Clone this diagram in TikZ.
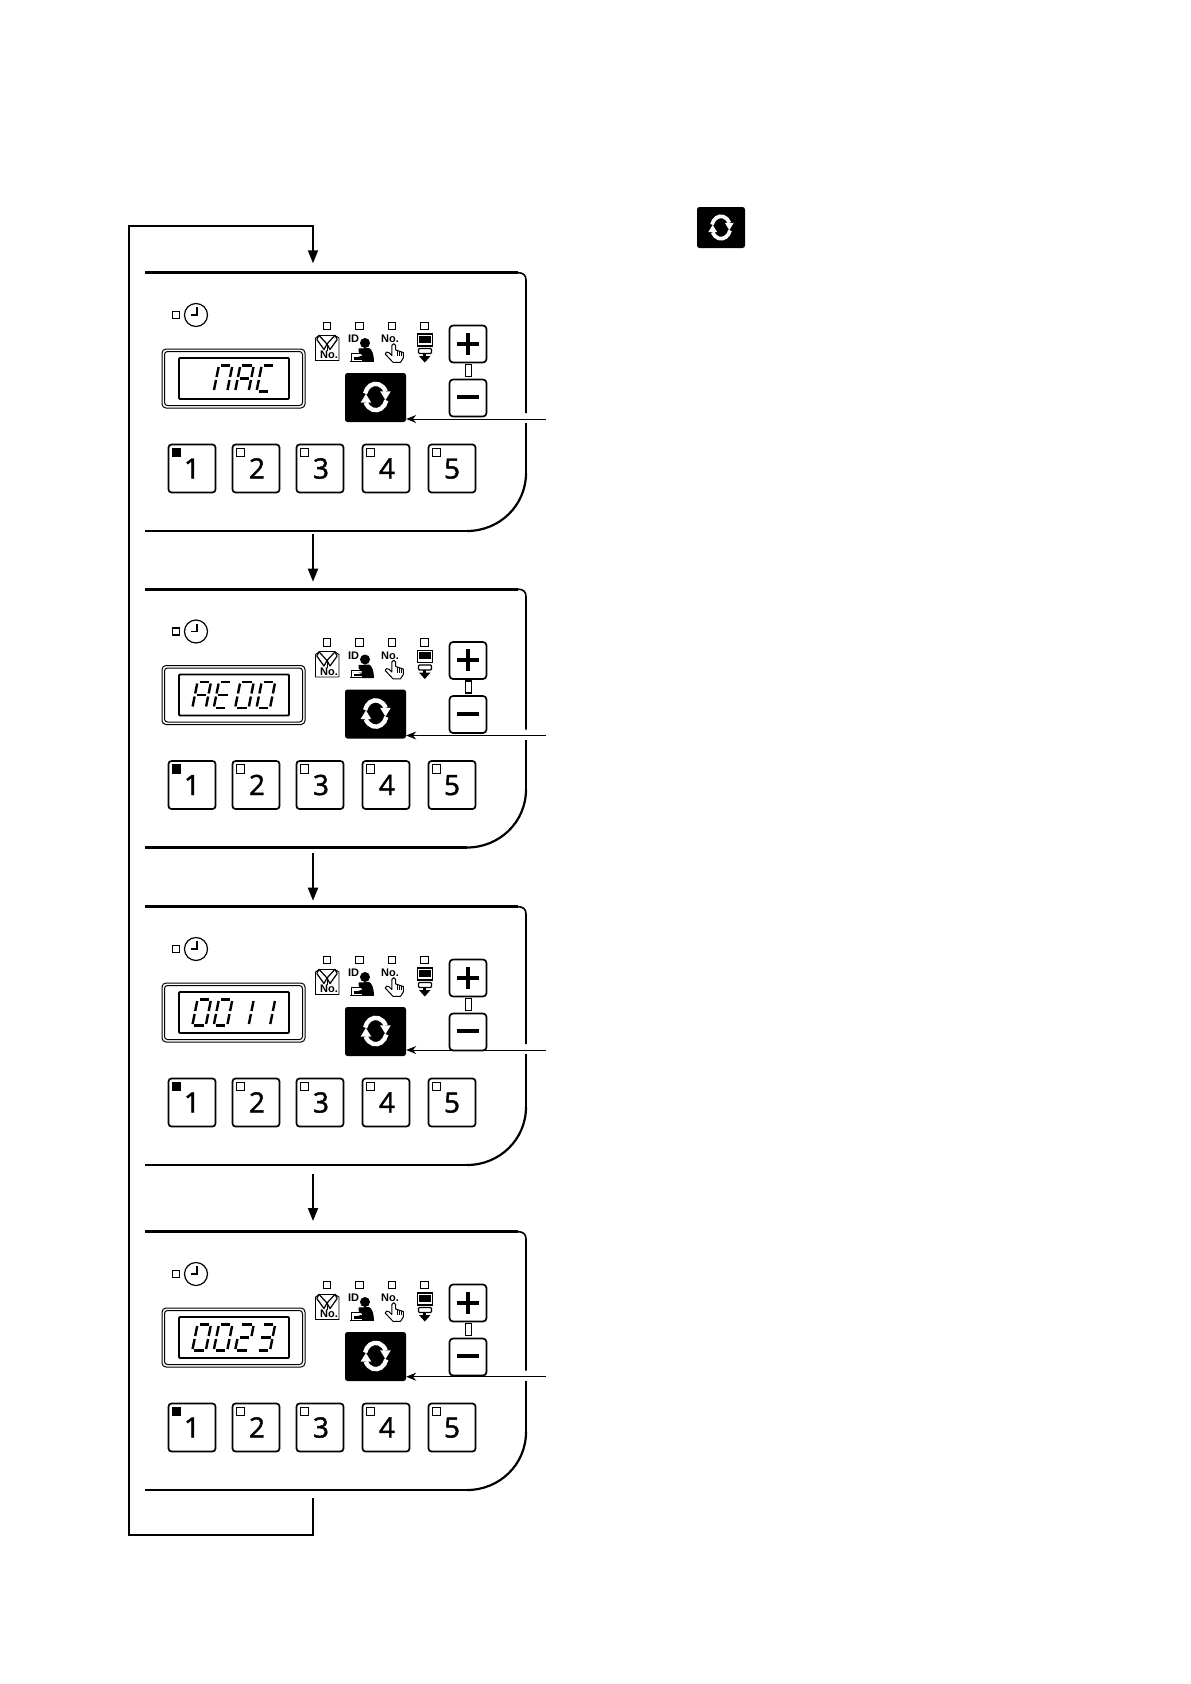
\documentclass[tikz,border=0pt]{standalone}
\usepackage{fontspec}
\setmainfont{Open Sans}
\newfontfamily\iconfont{Liberation Sans}
\newfontfamily\keyfont[FakeBold=1.6]{Open Sans}
\usetikzlibrary{arrows.meta}
\tikzset{
  flow/.style={line width=2pt,-{Triangle[length=13pt,width=10pt]}},
  loopline/.style={line width=2pt},
  callout/.style={line width=1pt,-{Stealth[length=10pt,width=8pt]}},
  led/.style={draw,line width=1.1pt,fill=white,inner sep=0pt,minimum size=7.5pt,rectangle},
  numkey/.style={draw,line width=1.7pt,rounded corners=3pt,fill=white,minimum width=47pt,minimum height=48pt,inner sep=0pt,text height=20pt,text depth=0pt,font=\keyfont\fontsize{28}{28}\selectfont},
  pmkey/.style={draw,line width=1.7pt,rounded corners=3.5pt,fill=white,minimum width=37pt,minimum height=37pt,inner sep=0pt},
  blackkey/.style={fill=black,rounded corners=2.5pt,inner sep=0pt},
  iconlabel/.style={inner sep=0pt,font=\iconfont\bfseries\fontsize{11}{11}\selectfont},
  seven/.style={line width=2.4pt,line cap=butt}
}
% seven segments, local origin at the top left of the slanted cell
\newcommand{\sega}{\draw[seven] (2,0) -- (11.5,0);}
\newcommand{\segb}{\draw[seven] (13.5,1.5) -- (13.5,11.5);}
\newcommand{\segc}{\draw[seven] (13.5,14.5) -- (13.5,24.5);}
\newcommand{\segd}{\draw[seven] (2,26) -- (11.5,26);}
\newcommand{\sege}{\draw[seven] (0,14.5) -- (0,24.5);}
\newcommand{\segf}{\draw[seven] (0,1.5) -- (0,11.5);}
\newcommand{\segg}{\draw[seven] (2,13) -- (11.5,13);}
\newcommand{\digitat}[2]{%
  \begin{scope}[shift={(#1+5.5,365.5)},xslant=0.2]
    \foreach \s in {#2} {\csname seg\s\endcsname}
  \end{scope}}
\newcommand{\reload}[3]{% centre x, centre y, scale
  \begin{scope}[shift={(#1,#2)},y=1pt,scale=#3,yscale=1.2]
    \foreach \r in {0,180} {
      \begin{scope}[rotate=\r]
        \draw[white,line width=4.4pt*#3] (165:11pt) arc[start angle=165,end angle=25,radius=11pt];
        \fill[white] (4.5,4.6) -- (15,4.6) -- (9.8,-2.6) -- cycle;
      \end{scope}
    }
  \end{scope}}
\newcommand{\panelat}[7]{% name, offset, callout y (relative), d1,d2,d3,d4 
  \begin{scope}[shift={(0,#2)}]
    \draw[line width=1.6pt] (518,272.7) .. controls (523,272.7) and (526,275) .. (526,280) -- (526,#3-6);
    \draw[line width=1.6pt] (526,#3+4) -- (526,473);
    \draw[line width=2.2pt] (526,473) .. controls (526,505.5) and (499.5,531) .. (467,531);
    \draw[line width=2.8pt] (145,272.7) -- (518,272.7);
    \draw[line width=2.1pt] (145,531) -- (467,531);
    \coordinate (top#1) at (313,272);
    \coordinate (bot#1) at (313,531);
    % clock
    \node[led,minimum size=7pt] (clockled#1) at (176,315) {};
    \node[draw,circle,line width=1.2pt,minimum size=23pt,inner sep=0pt] (clock#1) at (196,315) {};
    \draw[line width=1.7pt] (clock#1.center) ++(1,-8) -- ++(0,8) -- ++(-6,0);
    % display
    \draw[line width=1pt,rounded corners=4pt] (162,349) rectangle (305,408);
    \draw[line width=1pt,rounded corners=3pt] (164.5,351.5) rectangle (302.5,405.5);
    \draw[line width=1.9pt,rounded corners=1pt] (179,358) rectangle (289,399);
    \digitat{192}{#4}
    \digitat{213.4}{#5}
    \digitat{234.8}{#6}
    \digitat{256.2}{#7}
    % mode leds
    \foreach \x/\n in {327/a,359.5/b,392/c,424.5/d} \node[led] (mode\n#1) at (\x,326) {};
    % shirt icon
    \draw[line width=.9pt] (315.5,338) -- (315.5,360.5) -- (339,360.5) -- (339,338) -- (335,335.5) (319,335.5) -- (315.5,338);
    \draw[line width=1.2pt,line join=round] (319,335.3) -- (335,335.3);
    \draw[line width=1.2pt,fill=white,line join=round] (319,335.3) -- (327,344) -- (324,349.5) -- (316.8,339.5) -- cycle;
    \draw[line width=1.2pt,fill=white,line join=round] (335,335.3) -- (327,344) -- (330,349.5) -- (337.2,339.5) -- cycle;
    \draw[line width=.7pt] (327,344) -- (327,351);
    \node[iconlabel] (shirtno#1) at (329,355) {No.};
    % operator icon
    \node[iconlabel] (opid#1) at (353.5,339) {ID};
    \fill (365,343) circle[radius=5pt];
    \fill (358.5,348.5) -- (369,348) .. controls (372,349) and (374,355) .. (374,361.5) -- (362,361.5) -- (362,355) -- (358.5,352) -- cycle;
    \draw[line width=1pt] (350,361) -- (374,361) (351.5,361) -- (351.5,353.5) -- (362,353.5);
    \fill (354,357) rectangle (363,359.5);
    \fill (358,356) -- (364,356) -- (364,358) -- cycle;
    % hand icon
    \node[iconlabel] (handno#1) at (390,339) {No.};
    \draw[line width=1pt,fill=white,line join=round] (391.8,345.5) .. controls (392.1,343) and (395.4,343) .. (395.7,345.5) -- (395.7,350) -- (403.3,352.5) -- (403.3,358) -- (400.5,362.3) -- (393,362.3) -- (385.2,354) .. controls (385.2,352) and (387.5,351.5) .. (389,352.7) -- (391.8,355.5) -- cycle;
    \draw[line width=.8pt] (397.6,350.5) -- (397.6,356) (399.8,351) -- (399.8,356) (401.8,351.7) -- (401.8,356);
    % monitor icon
    \draw[line width=1.1pt] (417.5,334) rectangle (432.5,346);
    \fill (419,335.5) rectangle (431,342.5);
    \draw[line width=1.1pt,fill=white,rounded corners=1pt] (418.5,348.5) rectangle (431.5,353.5);
    \fill (423.2,353) rectangle (426.4,357);
    \fill (419,356) -- (430.5,356) -- (424.8,362.5) -- cycle;
    % plus and minus
    \node[pmkey] (plus#1) at (468,344) {};
    \node[pmkey] (minus#1) at (468,398) {};
    \draw[line width=1.1pt,fill=white] (465.8,364.5) rectangle (471.2,376.5);
    \draw[line width=4pt] (457,343.5) -- (479,343.5) (468,332.5) -- (468,354.5);
    \draw[line width=4pt] (457,397) -- (479,397);
    % loop key
    \node[blackkey,minimum width=61pt,minimum height=49pt] (key#1) at (375.5,397.5) {};
    \reload{375.7}{397}{1}
    % number keys
    \foreach \x/\n/\d in {192/1/0,256/2/2,320/3/2,386/4/2,452/5/0} {
      \node[numkey] (num\n#1) at (\x,468.5) {\hspace*{\d pt}\n};
    }
    \foreach \x/\n in {176.5/1,240.5/2,304.5/3,370.5/4,436.5/5} {
      \node[led,minimum size=8.5pt,line width=.9pt] (numled\n#1) at (\x,452.5) {};
    }
    \fill (172,448) rectangle (181,457);
    % callout
    \coordinate (from#1) at (546,#3);
    \draw[callout] (from#1) -- (from#1 -| key#1.east);
  \end{scope}}
\begin{document}
\begin{tikzpicture}[x=1pt,y=-1pt]
  \useasboundingbox (0,0) rectangle (1191,1684);
  \fill[white] (0,0) rectangle (1191,1684);
  \panelat{A}{0}{419}{}{a,b,c,e,f}{a,b,c,e,f,g}{a,d,e,f}
  \panelat{B}{316.5}{419}{a,b,c,e,f,g}{a,d,e,f,g}{a,b,c,d,e,f}{a,b,c,d,e,f}
  \panelat{C}{634}{416}{a,b,c,d,e,f}{a,b,c,d,e,f}{b,c}{b,c}
  \panelat{D}{959}{417.7}{a,b,c,d,e,f}{a,b,c,d,e,f}{a,b,g,e,d}{a,b,g,c,d}
  % flow
  \coordinate (loopTL) at (129,226);
  \coordinate (loopBL) at (129,1534.5);
  \coordinate (loopBR) at (313,1534.5);
  \coordinate (endD) at (313,1498);
  \coordinate (tipA) at (313,263.3);
  \coordinate (startB) at (313,534);
  \coordinate (tipB) at (313,581.7);
  \coordinate (startC) at (313,853.3);
  \coordinate (tipC) at (313,900.7);
  \coordinate (startD) at (313,1174);
  \coordinate (tipD) at (313,1221);
  \draw[flow] (endD) -- (loopBR) -- (loopBL) -- (loopTL) -- (loopTL -| tipA) -- (tipA);
  \draw[flow] (startB) -- (tipB);
  \draw[flow] (startC) -- (tipC);
  \draw[flow] (startD) -- (tipD);
  % legend key
  \node[blackkey,minimum width=48pt,minimum height=41pt] (legendkey) at (721,227.5) {};
  \reload{721}{227.5}{0.85}
\end{tikzpicture}
\end{document}
